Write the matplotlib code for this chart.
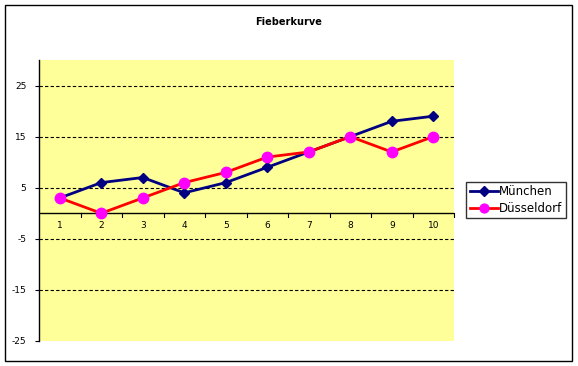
import matplotlib
matplotlib.use("Agg")
from matplotlib import pyplot as plt
from matplotlib.patches import Rectangle

TAGE = [1, 2, 3, 4, 5, 6, 7, 8, 9, 10]
MUENCHEN = [3, 6, 7, 4, 6, 9, 12, 15, 18, 19]
DUESSELDORF = [3, 0, 3, 6, 8, 11, 12, 15, 12, 15]
Y_TICKS = [-25, -15, -5, 5, 15, 25]

plt.rcParams["font.family"] = ["DejaVu Sans"]

fig = plt.figure(figsize=(5.78, 3.66), dpi=100)
# chart border
fig.patches.append(Rectangle((5 / 578, 1 - 361 / 366), 567 / 578, 356 / 366,
                             transform=fig.transFigure, fill=False,
                             edgecolor="black", linewidth=1.0))

ax = fig.add_axes([39 / 578, 1 - 341 / 366, 415 / 578, 281 / 366])
ax.set_facecolor("#FFFF99")

ax.plot(TAGE, MUENCHEN, color="#000080", marker="D", markersize=5.5,
        linewidth=2, label="München", zorder=3)
ax.plot(TAGE, DUESSELDORF, color="#FF0000", marker="o", markersize=7.5,
        markerfacecolor="#FF00FF", markeredgecolor="#FF00FF",
        linewidth=2, label="Düsseldorf", zorder=3)

ax.set_xlim(0.5, 10.5)
ax.set_ylim(-25, 30)
ax.set_yticks(Y_TICKS)
ax.set_yticklabels([str(v) for v in Y_TICKS], fontsize=6.5)
for v in Y_TICKS[1:]:
    ax.axhline(v, color="black", linestyle=(0, (3, 2)), linewidth=0.8, zorder=1)

# category axis crossing at 0, ticks between categories
ax.axhline(0, color="black", linewidth=1.0, zorder=2)
ax.set_xticks([])
for x in TAGE:
    ax.plot([x + 0.5, x + 0.5], [0, -0.8], color="black", linewidth=0.8,
            zorder=2, clip_on=False)
for x in TAGE:
    ax.text(x, -2.4, str(x), ha="center", va="center", fontsize=6.5)

for side in ["top", "right", "bottom"]:
    ax.spines[side].set_visible(False)
ax.spines["left"].set_linewidth(1.0)
ax.tick_params(axis="y", length=3, width=0.8, pad=6)

fig.text(0.5, 1 - 22 / 366, "Fieberkurve", ha="center", va="center",
         fontsize=7, fontweight="bold")

leg = fig.legend(loc="center", bbox_to_anchor=(516 / 578, 1 - 200 / 366),
                 fontsize=8.5, frameon=True, fancybox=False, handlelength=2.4,
                 handletextpad=0.1, borderpad=0.3, labelspacing=0.3,
                 borderaxespad=0, markerscale=0.85)
leg.get_frame().set_edgecolor("black")
leg.get_frame().set_linewidth(1.0)

fig.savefig("out.png", dpi=100)
